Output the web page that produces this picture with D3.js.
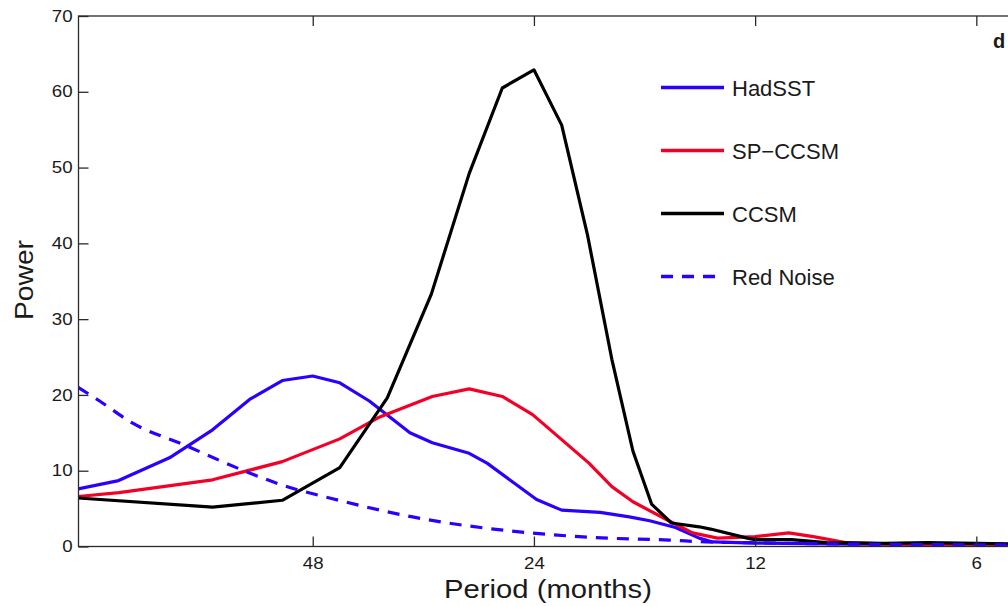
<!DOCTYPE html>
<html>
<head>
  <meta charset="utf-8">
  <script src="https://d3js.org/d3.v7.min.js"></script>
  <style>
    body { margin: 0; background: #fff; }
    text { font-family: "Liberation Sans", Arial, sans-serif; fill: #1a1a1a; }
  </style>
</head>
<body>
<div id="chart"></div>
<script>
  // period (months) and power
  var hadPeriod = [100.1, 88.2, 75.2, 65.7, 58.5, 52.8, 48, 44.1, 40.2, 35.4, 33.0, 29.4, 27.8, 25.9, 23.8, 22.0, 19.5, 17.8, 16.7, 15.4, 14.3, 13.7, 12, 8.9, 6, 4.5];
  var hadPower  = [7.6, 8.7, 11.7, 15.4, 19.4, 21.9, 22.5, 21.6, 19.2, 15.0, 13.7, 12.3, 11.0, 8.8, 6.2, 4.8, 4.5, 3.9, 3.4, 2.5, 1.1, 0.6, 0.45, 0.3, 0.3, 0.3];

  var spPeriod = [100.1, 88.1, 65.7, 52.8, 44.1, 38.9, 33.0, 29.4, 26.5, 24.1, 22.0, 20.2, 18.8, 17.6, 15.8, 14.6, 13.5, 12, 10.8, 10.0, 9.0, 8, 6, 4.5];
  var spPower  = [6.6, 7.1, 8.8, 11.2, 14.2, 17.1, 19.8, 20.8, 19.8, 17.4, 14.1, 11.0, 7.9, 5.9, 3.5, 1.8, 1.1, 1.3, 1.8, 1.3, 0.5, 0.35, 0.3, 0.2];

  var ccPeriod = [100.1, 65.7, 52.8, 44.1, 38.0, 33.1, 29.4, 26.5, 24.0, 22.0, 20.3, 18.8, 17.6, 16.6, 15.6, 14.3, 13.8, 12.3, 12, 10.7, 9.6, 8, 7, 6, 4.5];
  var ccPower  = [6.4, 5.2, 6.1, 10.4, 19.6, 33.3, 49.2, 60.5, 62.9, 55.6, 41.2, 24.7, 12.6, 5.6, 3.1, 2.6, 2.3, 1.1, 0.9, 0.9, 0.5, 0.4, 0.5, 0.4, 0.3];

  var rnPeriod = [100.1, 93.6, 84.5, 72.2, 58.5, 52.8, 45.1, 35.1, 24.3, 19, 15.7, 14, 12.2, 8.6, 4.5];
  var rnPower  = [21, 19.2, 16.3, 13.5, 9.7, 8.1, 6.3, 3.9, 1.8, 1.1, 0.85, 0.6, 0.5, 0.3, 0.2];

  var seriesNames = ["HadSST", "SP\u2212CCSM", "CCSM", "Red Noise"];
  var xTicks = [48, 24, 12, 6];
  var yTicks = [0, 10, 20, 30, 40, 50, 60, 70];

  var W = 1008, H = 606;
  var mLeft = 78.5, mTop = 16, mBottom = 546.5;
  var octave = 221.2;
  var pLeft = 100, pRight = 4.5;
  var mRight = mLeft + octave * Math.log2(pLeft / pRight);

  var svg = d3.select("#chart").append("svg")
    .attr("width", W).attr("height", H);

  var x = d3.scaleLog().domain([pLeft, pRight]).range([mLeft, mRight]);
  var y = d3.scaleLinear().domain([0, 70]).range([mBottom, mTop]);

  var sx = 1.17; // axis text is drawn a bit wide in the original

  svg.append("clipPath").attr("id", "plotclip")
    .append("rect").attr("x", mLeft).attr("y", mTop)
    .attr("width", mRight - mLeft).attr("height", mBottom - mTop);

  var series = [
    { name: seriesNames[0], p: hadPeriod, v: hadPower, color: "#2b00ff", dash: null },
    { name: seriesNames[1], p: spPeriod, v: spPower, color: "#f20026", dash: null },
    { name: seriesNames[2], p: ccPeriod, v: ccPower, color: "#000000", dash: null },
    { name: seriesNames[3], p: rnPeriod, v: rnPower, color: "#2b00ff", dash: "12,9" }
  ];

  var line = d3.line()
    .x(function (d) { return x(d[0]); })
    .y(function (d) { return y(d[1]); });

  var plot = svg.append("g").attr("clip-path", "url(#plotclip)");
  series.forEach(function (s) {
    var pts = s.p.map(function (p, i) { return [p, s.v[i]]; });
    plot.append("path")
      .datum(pts)
      .attr("fill", "none")
      .attr("stroke", s.color)
      .attr("stroke-width", 3.2)
      .attr("stroke-linejoin", "round")
      .attr("stroke-dasharray", s.dash)
      .attr("d", s.dash ? line.curve(d3.curveMonotoneX) : line.curve(d3.curveLinear));
  });

  // frame
  svg.append("rect")
    .attr("x", mLeft).attr("y", mTop)
    .attr("width", mRight - mLeft).attr("height", mBottom - mTop)
    .attr("fill", "none").attr("stroke", "#2a2a2a").attr("stroke-width", 1.3);

  // axes (ticks point inward)
  var yAxis = svg.append("g")
    .attr("transform", "translate(" + mLeft + ",0)")
    .call(d3.axisLeft(y).tickValues(yTicks).tickSizeInner(-10).tickSizeOuter(0).tickPadding(5));
  var xAxis = svg.append("g")
    .attr("transform", "translate(0," + mBottom + ")")
    .call(d3.axisBottom(x).tickValues(xTicks).tickFormat(d3.format("d"))
      .tickSizeInner(-10).tickSizeOuter(0).tickPadding(11));
  var xTop = svg.append("g")
    .attr("transform", "translate(0," + mTop + ")")
    .call(d3.axisTop(x).tickValues(xTicks).tickFormat("").tickSizeInner(-10).tickSizeOuter(0));

  [yAxis, xAxis, xTop].forEach(function (a) {
    a.attr("font-size", 16).attr("font-family", null);
    a.select(".domain").remove();
    a.selectAll(".tick line").attr("stroke", "#2a2a2a").attr("stroke-width", 1.3);
    a.selectAll(".tick text")
      .attr("fill", "#111")
      .attr("transform", "scale(" + sx + ",1)");
  });

  // axis titles
  svg.append("text")
    .attr("transform", "translate(548,598) scale(" + sx + ",1)")
    .attr("text-anchor", "middle")
    .attr("font-size", 25)
    .text("Period (months)");

  svg.append("text")
    .attr("transform", "translate(33,280) rotate(-90) scale(1.13,1)")
    .attr("text-anchor", "middle")
    .attr("font-size", 25)
    .text("Power");

  // panel letter
  svg.append("text")
    .attr("x", 993).attr("y", 48)
    .attr("font-size", 20).attr("font-weight", "bold")
    .text("d");

  // legend
  var legY = [87.5, 150.5, 213.5, 276.5];
  var leg = svg.append("g");
  series.forEach(function (s, i) {
    leg.append("line")
      .attr("x1", 661).attr("x2", 724)
      .attr("y1", legY[i]).attr("y2", legY[i])
      .attr("stroke", s.color)
      .attr("stroke-width", 3.4)
      .attr("stroke-dasharray", s.dash);
    leg.append("text")
      .attr("x", 732).attr("y", legY[i] + 8)
      .attr("font-size", 22)
      .text(s.name);
  });
</script>
</body>
</html>
